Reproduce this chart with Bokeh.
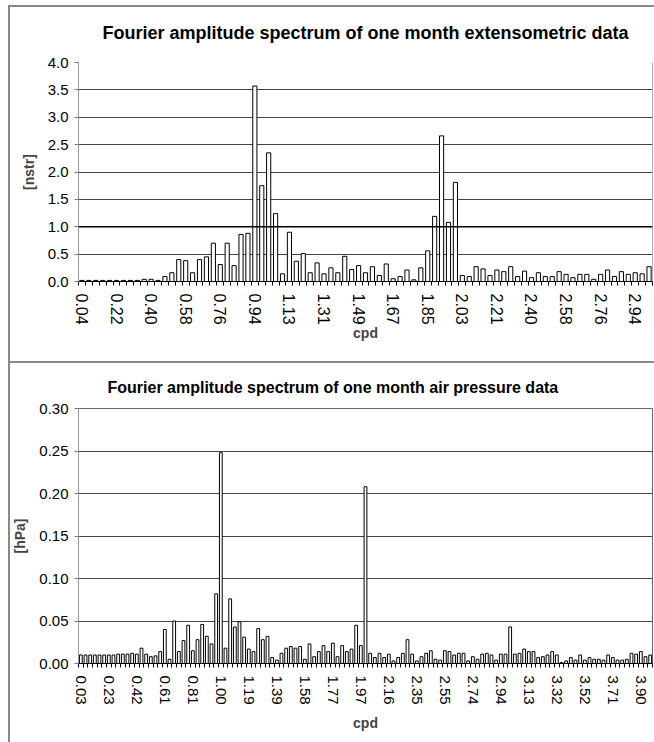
import math
from bokeh.plotting import figure
from bokeh.models import Range1d, FixedTicker, Span, NumeralTickFormatter
from bokeh.layouts import column
from bokeh.embed import file_html
from bokeh.resources import INLINE

# ---------------- data ----------------
# extensometric spectrum: one bar per frequency step, labels every 5th bar
ext_tick_labels = ["0.04", "0.22", "0.40", "0.58", "0.76", "0.94", "1.13", "1.31", "1.49",
                   "1.67", "1.85", "2.03", "2.21", "2.40", "2.58", "2.76", "2.94"]
ext_amp = [0.02, 0.02, 0.02, 0.02, 0.02, 0.02, 0.02, 0.02, 0.02, 0.04,
           0.04, 0.02, 0.09, 0.16, 0.40, 0.38, 0.16, 0.40, 0.45, 0.70,
           0.31, 0.70, 0.29, 0.86, 0.88, 3.57, 1.75, 2.35, 1.24, 0.14,
           0.90, 0.37, 0.51, 0.16, 0.34, 0.14, 0.25, 0.16, 0.46, 0.22,
           0.29, 0.16, 0.27, 0.11, 0.32, 0.05, 0.09, 0.21, 0.03, 0.25,
           0.56, 1.19, 2.66, 1.08, 1.81, 0.11, 0.09, 0.27, 0.23, 0.11,
           0.21, 0.18, 0.27, 0.09, 0.19, 0.07, 0.16, 0.09, 0.09, 0.18,
           0.13, 0.07, 0.13, 0.13, 0.04, 0.13, 0.21, 0.09, 0.18, 0.13,
           0.16, 0.14, 0.27]
ext_label_every = 5

# air pressure spectrum: labels every 6th bar
air_tick_labels = ["0.03", "0.23", "0.42", "0.61", "0.81", "1.00", "1.19", "1.39", "1.58",
                   "1.77", "1.97", "2.16", "2.35", "2.55", "2.74", "2.94", "3.13", "3.32",
                   "3.52", "3.71", "3.90"]
air_amp = [0.010, 0.010, 0.010, 0.010, 0.010, 0.010, 0.010, 0.010, 0.011, 0.011,
           0.011, 0.012, 0.011, 0.018, 0.011, 0.008, 0.009, 0.014, 0.040, 0.005,
           0.050, 0.014, 0.027, 0.045, 0.015, 0.028, 0.046, 0.032, 0.023, 0.082,
           0.248, 0.018, 0.076, 0.043, 0.049, 0.031, 0.017, 0.014, 0.041, 0.028,
           0.032, 0.007, 0.004, 0.012, 0.018, 0.020, 0.018, 0.020, 0.005, 0.023,
           0.008, 0.014, 0.021, 0.014, 0.024, 0.008, 0.021, 0.014, 0.017, 0.045,
           0.021, 0.208, 0.012, 0.007, 0.012, 0.007, 0.011, 0.003, 0.007, 0.012,
           0.028, 0.011, 0.003, 0.008, 0.012, 0.015, 0.005, 0.004, 0.015, 0.014,
           0.010, 0.012, 0.012, 0.003, 0.008, 0.005, 0.011, 0.012, 0.010, 0.004,
           0.011, 0.011, 0.043, 0.011, 0.012, 0.017, 0.014, 0.014, 0.007, 0.008,
           0.010, 0.014, 0.010, 0.001, 0.003, 0.007, 0.004, 0.010, 0.004, 0.007,
           0.005, 0.005, 0.004, 0.010, 0.007, 0.004, 0.004, 0.005, 0.012, 0.011,
           0.014, 0.008, 0.010]
air_label_every = 6

FONT = "Liberation Sans"


def make_panel(amp, tick_labels, every, title, ylabel, ymax, ystep, yfmt,
               height, frame_left, frame_top, frame_bottom_margin,
               title_size, title_standoff, title_align, title_offset,
               xlabel_size, xstandoff, show_outline, ygrid_ticks, frame_css):
    n = len(amp)
    p = figure(width=654, height=height, output_backend="svg", toolbar_location=None,
               x_range=Range1d(-0.5, n - 0.5), y_range=Range1d(0, ymax),
               min_border_left=frame_left, min_border_right=2,
               min_border_top=frame_top, min_border_bottom=frame_bottom_margin,
               styles=frame_css)
    p.vbar(x=list(range(n)), top=amp, width=0.6, fill_color="white",
           line_color="black", line_width=1)

    p.title.text = title
    p.title.align = title_align
    p.title.offset = title_offset
    p.title.standoff = title_standoff
    p.title.text_font = FONT
    p.title.text_font_size = title_size
    p.title.text_font_style = "bold"
    p.title.text_color = "black"

    # x axis
    major = [i * every for i in range(len(tick_labels))]
    minor = [i - 0.5 for i in range(n + 1)]
    p.xaxis.ticker = FixedTicker(ticks=major, minor_ticks=minor)
    p.xaxis.major_label_overrides = {m: t for m, t in zip(major, tick_labels)}
    p.xaxis.major_label_orientation = "vertical"
    p.xaxis.major_label_text_font = FONT
    p.xaxis.major_label_text_font_size = xlabel_size
    p.xaxis.major_label_text_color = "black"
    p.xaxis.major_label_standoff = 6
    p.xaxis.major_tick_line_color = None
    p.xaxis.major_tick_in = 0
    p.xaxis.major_tick_out = 6
    p.xaxis.minor_tick_in = 0
    p.xaxis.minor_tick_out = 4
    p.xaxis.minor_tick_line_color = "black"
    p.xaxis.axis_line_color = "black"
    p.xaxis.axis_label = "cpd"
    p.xaxis.axis_label_text_font = FONT
    p.xaxis.axis_label_text_font_size = "14px"
    p.xaxis.axis_label_text_font_style = "bold"
    p.xaxis.axis_label_standoff = xstandoff

    # y axis
    nt = int(round(ymax / ystep))
    p.yaxis.ticker = FixedTicker(ticks=[round(i * ystep, 4) for i in range(nt + 1)])
    p.yaxis.formatter = NumeralTickFormatter(format=yfmt)
    p.yaxis.major_label_text_font = FONT
    p.yaxis.major_label_text_font_size = "15px"
    p.yaxis.major_label_text_color = "black"
    p.yaxis.major_label_standoff = 6
    p.yaxis.major_tick_in = 0
    p.yaxis.major_tick_out = 4
    p.yaxis.major_tick_line_color = "#777777"
    p.yaxis.minor_tick_line_color = None
    p.yaxis.axis_line_color = "#999999"
    p.yaxis.axis_label = ylabel
    p.yaxis.axis_label_text_font = FONT
    p.yaxis.axis_label_text_font_size = "14px"
    p.yaxis.axis_label_text_font_style = "bold"
    p.yaxis.axis_label_standoff = 8

    p.xgrid.grid_line_color = None
    p.ygrid.ticker = FixedTicker(ticks=ygrid_ticks)
    p.ygrid.grid_line_color = "#444444"
    p.ygrid.grid_line_width = 1

    if show_outline:
        p.outline_line_color = "#666666"
    else:
        p.outline_line_color = None
        p.add_layout(Span(location=n - 0.5, dimension="height",
                          line_color="#666666", line_width=1))
    p.background_fill_color = "white"
    p.border_fill_color = None
    return p


def frame_lines(top_px, height_px):
    return {
        "background-color": "white",
        "background-image": "linear-gradient(#888888,#888888), linear-gradient(#888888,#888888)",
        "background-size": f"2px {height_px}px, 646px 2px",
        "background-position": f"8px {top_px}px, 8px {top_px}px",
        "background-repeat": "no-repeat",
    }


top = make_panel(ext_amp, ext_tick_labels, ext_label_every,
                 "Fourier amplitude spectrum of one month extensometric data",
                 "[nstr]", 4.0, 0.5, "0.0", 361, 78, 62, 80,
                 "18px", 40, "center", 0, "16px", -3, False,
                 [0.5, 1.0, 1.5, 2.0, 2.5, 3.0, 3.5], frame_lines(5, 356))
# the 1.0 gridline is drawn darker in the original
top.add_layout(Span(location=1.0, dimension="width", line_color="black", line_width=1.5))

bottom = make_panel(air_amp, air_tick_labels, air_label_every,
                    "Fourier amplitude spectrum of one month air pressure data",
                    "[hPa]", 0.30, 0.05, "0.00", 381, 73, 47, 79,
                    "16px", 26, "left", 29, "15px", 7, True,
                    [0.05, 0.10, 0.15, 0.20, 0.25], frame_lines(0, 381))

layout = column(top, bottom, spacing=0)
open("out.html", "w").write(file_html(layout, INLINE))
